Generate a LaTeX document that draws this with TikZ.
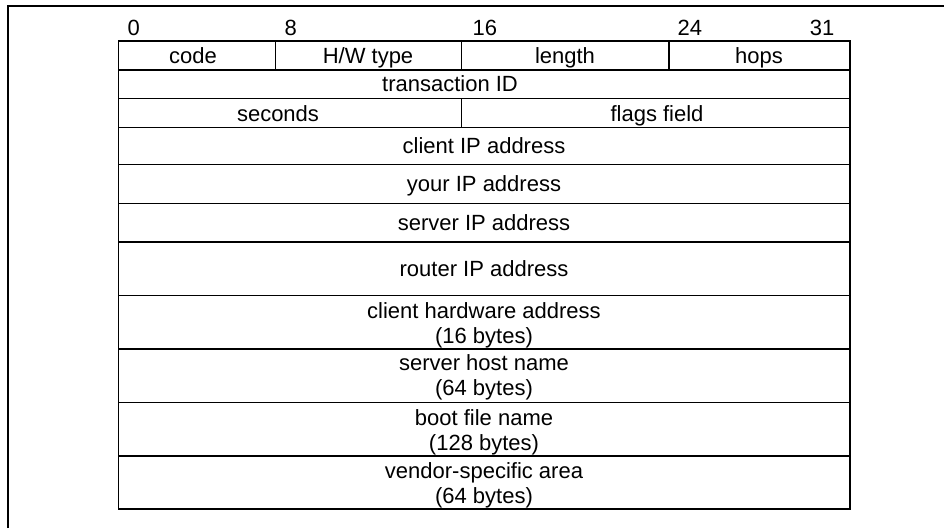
\documentclass[tikz,border=0pt]{standalone}
\usepackage{fontspec}
\setmainfont{Liberation Sans}
\begin{document}
\begin{tikzpicture}[x=1pt,y=-1pt,line width=1.2pt,
    every node/.style={font=\fontsize{22}{25}\selectfont,inner sep=0pt,align=center}]

\useasboundingbox (0,0) rectangle (944,528);

% Rahmen
\draw (8,528) -- (8,6) -- (944,6);

% Bitnummern
\node[anchor=base west] (b0) at (127,35.5) {0};
\node[anchor=base west] (b8) at (284,35.5) {8};
\node[anchor=base west] (b16) at (472,35.5) {16};
\node[anchor=base west] (b24) at (677,35.5) {24};
\node[anchor=base east] (b31) at (835,35.5) {31};

% Tabelle
\draw (118.3,41) rectangle (850,509);
\foreach \y in {70,98.7,127.7,164.3,203.3,242,295.7,349,402.7,456}
{
    \draw (118.3,\y) -- (850,\y);
}
\foreach \x in {275.7,461.3,669}
{
    \draw (\x,41) -- (\x,70);
}
\draw (461.3,98.7) -- (461.3,127.7);

% Felder
\node[anchor=base] (code) at (193,63.3) {code};
\node[anchor=base] (hwtype) at (368,63.3) {H/W type};
\node[anchor=base] (length) at (565,63.3) {length};
\node[anchor=base] (hops) at (759,63.3) {hops};
\node[anchor=base] (xid) at (450,91.7) {transaction ID};
\node[anchor=base] (secs) at (278,121.7) {seconds};
\node[anchor=base] (flags) at (657,121.7) {flags field};
\node[anchor=base] (ciaddr) at (484,153.3) {client IP address};
\node[anchor=base] (yiaddr) at (484,191.7) {your IP address};
\node[anchor=base] (siaddr) at (484,230) {server IP address};
\node[anchor=base] (giaddr) at (484,276) {router IP address};
\node (chaddr) at (484,325) {client hardware address\\(16 bytes)};
\node (sname) at (484,377.5) {server host name\\(64 bytes)};
\node (file) at (484,432.5) {boot file name\\(128 bytes)};
\node (vend) at (484,485.5) {vendor-specific area\\(64 bytes)};

\end{tikzpicture}
\end{document}
